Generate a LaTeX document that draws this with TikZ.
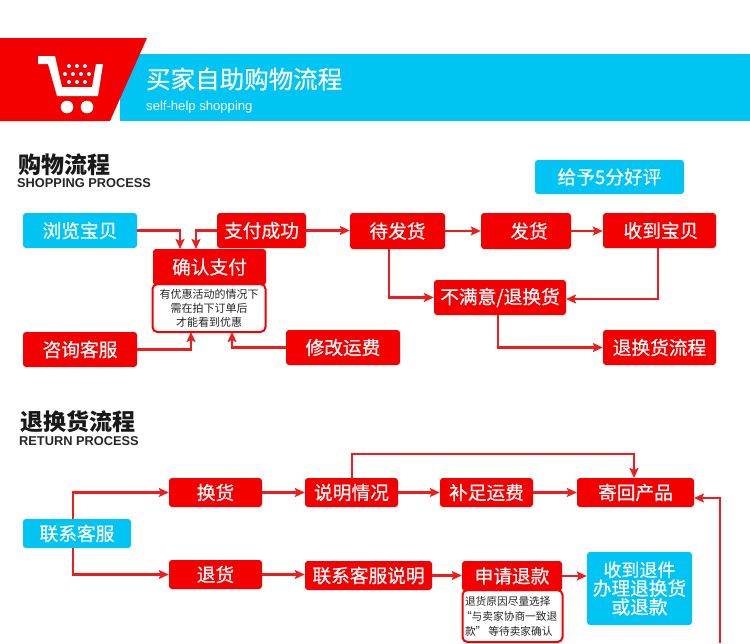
\documentclass[tikz,border=0pt]{standalone}
\usepackage{fontspec}
\setmainfont{Noto Sans CJK SC}
\newfontfamily\medf[FakeBold=0.5]{Noto Sans CJK SC}
\newfontfamily\latinf{Liberation Sans}
\definecolor{rd}{HTML}{F50000}
\definecolor{cy}{HTML}{00C4F4}
\definecolor{ln}{HTML}{EE1C1C}
\usetikzlibrary{arrows.meta}
\tikzset{
 bx/.style={rounded corners=3pt,inner sep=0pt,text=white,font=\medf\fontsize{18.7}{18.7}\selectfont,align=center},
 redbox/.style={bx,fill=rd},
 cybox/.style={bx,fill=cy},
 notebox/.style={draw=rd,line width=2pt,fill=white,rounded corners=5pt,inner sep=0pt,text=black!85,font=\fontsize{11}{14}\selectfont},
 conn/.style={draw=ln,line width=2.2pt,-{Stealth[length=10pt,width=9pt,inset=2pt,fill=ln]}},
}
\newcommand{\bxn}[7][redbox]{%
 \node[#1,minimum width=#5pt-#3pt,minimum height=#6pt-#4pt] (#2) at ({(#3+#5)/2},{(#4+#6)/2}) {#7};}
\begin{document}
\begin{tikzpicture}[x=1pt,y=-1pt]
\useasboundingbox (0,0) rectangle (750,643);
% banner
\fill[cy] (120,54) rectangle (750,121);
\fill[rd] (0,38) -- (147,38) -- (110,121) -- (0,121) -- cycle;
% cart
\fill[white] (38,56) -- (55,56) -- (62,87) -- (92,87) -- (96,64) -- (103,64) -- (98,96) -- (57,96) -- (48,64) -- (38,64) -- cycle;
\fill[white] (67,107) circle (6.3) (87,107) circle (6.3);
\foreach \x in {69,77,85} \fill[white] (\x,66) circle (2);
\foreach \x in {65,73,81,89} \fill[white] (\x,74) circle (2);
\foreach \x in {69,77,85} \fill[white] (\x,82) circle (2);
\node[anchor=west,text=white,inner sep=0pt,font=\medf\fontsize{24.5}{24.5}\selectfont] (title) at (146,79) {买家自助购物流程};
\node[anchor=west,text=white,inner sep=0pt,font=\latinf\fontsize{13.1}{13.1}\selectfont] (subtitle) at (146,107) {self-help shopping};
% headings
\node[anchor=west,inner sep=0pt,font=\bfseries\fontsize{23}{23}\selectfont,text=black!90] (h1) at (18,165) {购物流程};
\node[anchor=west,inner sep=0pt,font=\latinf\bfseries\fontsize{12.8}{12.8}\selectfont,text=black!85] (h1e) at (17,183) {SHOPPING PROCESS};
\node[anchor=west,inner sep=0pt,font=\bfseries\fontsize{23}{23}\selectfont,text=black!90] (h2) at (20,422) {退换货流程};
\node[anchor=west,inner sep=0pt,font=\latinf\bfseries\fontsize{12.8}{12.8}\selectfont,text=black!85] (h2e) at (19,441) {RETURN PROCESS};
% shopping process
\bxn[cybox]{browse}{23}{213}{137}{248}{浏览宝贝}
\bxn{paid}{217}{213}{306}{248}{支付成功}
\node[notebox,align=center,minimum width=113pt,minimum height=48pt] (note1) at (209,308) {\raisebox{1pt}{有优惠活动的情况下}\\\raisebox{1pt}{需在拍下订单后}\\\raisebox{1pt}{才能看到优惠}};
\bxn{confirm}{153}{249}{266}{285}{确认支付}
\bxn{consult}{23}{332}{137}{367}{咨询客服}
\bxn{modify}{286}{330}{400}{365}{修改运费}
\bxn{wait}{350}{213}{445}{249}{待发货}
\bxn{ship}{481}{213}{571}{249}{\hspace*{6pt}发货}
\bxn{recv}{603}{213}{716}{248}{\hspace*{3pt}收到宝贝}
\bxn[cybox]{rate}{535}{160}{684}{194}{给予5分好评}
\bxn{unhappy}{434}{280}{566}{315}{不满意/退换货}
\bxn{flow}{603}{330}{716}{365}{退换货流程}
\coordinate (c1) at (180,249);
\coordinate (c2) at (196,249);
\coordinate (c3) at (191,332);
\coordinate (c4) at (232,332);
\draw[conn] (browse.east) -| (c1);
\draw[conn] (paid.west) -| (c2);
\draw[conn] (consult.east) -| (c3);
\draw[conn] (modify.west) -| (c4);
\draw[conn] (paid.east) -- (wait.west |- paid.east);
\draw[conn] (wait.east) -- (ship.west);
\draw[conn] (ship.east) -- (recv.west |- ship.east);
\coordinate (c5) at (389,249);
\coordinate (c6) at (658,248);
\coordinate (c7) at (498,315);
\draw[conn] (c5) |- (unhappy.west);
\coordinate (c8) at (566,299);
\draw[conn] (c6) |- (c8);
\draw[conn] (c7) |- (flow.west);
% return process
\bxn[cybox]{contact}{23}{519}{131}{548}{联系客服}
\bxn{exch}{169}{478}{262}{507}{换货}
\bxn{ret}{169}{560}{262}{589}{退货}
\bxn{explain}{305}{478}{398}{507}{说明情况}
\bxn{contact2}{305}{561}{432}{590}{联系客服说明}
\bxn{topup}{440}{478}{533}{507}{补足运费}
\bxn{sendback}{577}{478}{694}{507}{寄回产品}
\node[notebox,align=left,minimum width=100pt,minimum height=52pt,text width=95pt,font=\fontsize{10.7}{15}\selectfont] (note2) at (512.5,616) {退货原因尽量选择\\\hspace*{-4pt}“与卖家协商一致退\\款”\hspace*{2pt}等待卖家确认};
\bxn{apply}{462}{561}{562}{591}{申请退款}
\bxn[cybox]{refund}{587}{552}{692}{625}{\fontsize{18}{21}\selectfont 收到退件\\办理退换货\\或退款}
\coordinate (d1) at (73,519);
\coordinate (d2) at (73,548);
\coordinate (d3) at (352,478);
\coordinate (d4) at (352,454);
\coordinate (d5) at (634,454);
\coordinate (d6) at (634,478);
\coordinate (d7) at (720,643);
\coordinate (d8) at (720,498);
\coordinate (d9) at (694,498);
\draw[conn] (d1) |- (exch.west);
\draw[conn] (d2) |- (ret.west);
\draw[conn] (exch.east) -- (explain.west);
\draw[conn] (explain.east) -- (topup.west);
\draw[conn] (topup.east) -- (sendback.west);
\draw[conn] (d3) -- (d4) -- (d5) -- (d6);
\draw[conn] (ret.east) -- (contact2.west |- ret.east);
\draw[conn] (contact2.east) -- (apply.west |- contact2.east);
\draw[conn] (apply.east) -- (refund.west |- apply.east);
\draw[conn] (d7) -- (d8) -- (d9);
\end{tikzpicture}
\end{document}
